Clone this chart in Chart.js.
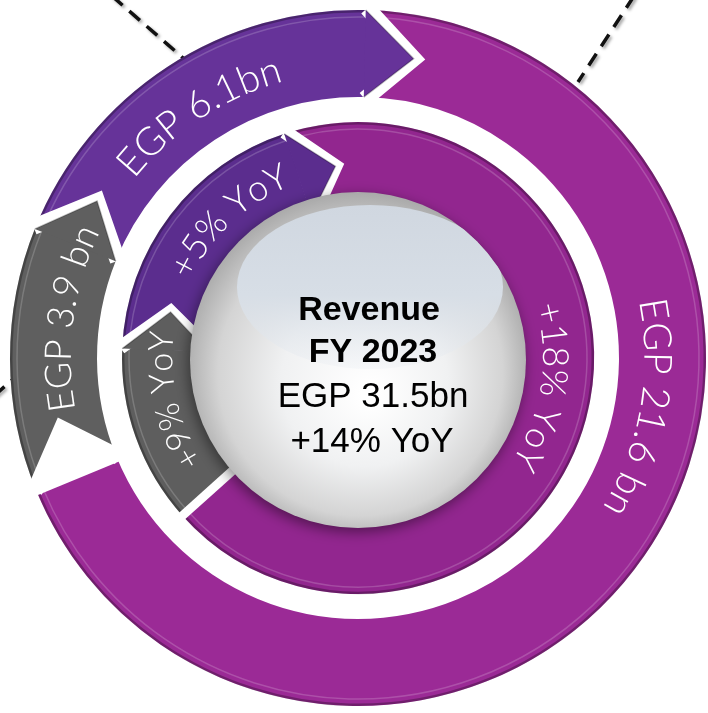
<!DOCTYPE html>
<html><head><meta charset="utf-8">
<script src="https://cdn.jsdelivr.net/npm/chart.js@4.4.0/dist/chart.umd.min.js"></script>
<style>html,body{margin:0;padding:0;background:#fff;overflow:hidden}#wrap{width:708px;height:713px;position:relative}</style>
</head><body><div id="wrap"><canvas id="c" width="708" height="713"></canvas></div>
<script>
// ---- data ----
const revenueLabels = ['EGP 21.6 bn', 'EGP 3.9 bn', 'EGP 6.1bn'];
const revenueBn = [21.6, 3.9, 6.1];
const yoyLabels = ['+18% YoY', '+9% YoY', '+5% YoY'];
const yoyPct = [18, 9, 5];
const centerTitle = ['Revenue', 'FY 2023'];
const centerTotal = 'EGP 31.5bn';
const centerYoY = '+14% YoY';

// ---- style ----
const outerColors = ['#9b2a96', '#5f5f5f', '#663399'];
const innerColors = ['#92268f', '#5e5e5e', '#5b2d8e'];

function pt(cx, cy, r, a) { return [cx + r * Math.cos(a), cy + r * Math.sin(a)]; }

function arcText(ctx, text, cx, cy, r, centerAng, size, font, color) {
  ctx.save();
  ctx.font = font;
  ctx.fillStyle = color;
  ctx.textAlign = 'center';
  ctx.textBaseline = 'alphabetic';
  const rb = r - 0.36 * size;
  const total = ctx.measureText(text).width;
  let ang = centerAng - total / (2 * rb);
  for (const ch of text) {
    const w = ctx.measureText(ch).width;
    const a = ang + w / (2 * rb);
    ctx.save();
    ctx.translate(cx + rb * Math.cos(a), cy + rb * Math.sin(a));
    ctx.rotate(a + Math.PI / 2);
    ctx.fillText(ch, 0, 0);
    ctx.restore();
    ang += w / rb;
  }
  ctx.restore();
}

const ringArt = {
  id: 'ringArt',
  beforeDraw(chart) {
    const ctx = chart.ctx;
    ctx.save();
    ctx.strokeStyle = '#111';
    ctx.lineWidth = 3.5;
    ctx.setLineDash([14, 9]);
    ctx.shadowColor = 'rgba(0,0,0,0.35)';
    ctx.shadowBlur = 3; ctx.shadowOffsetX = 2; ctx.shadowOffsetY = 2;
    [[[112, -4], [190, 64]], [[634, -4], [578, 82]], [[-6, 396], [22, 371]]].forEach(l => {
      ctx.beginPath(); ctx.moveTo(l[0][0], l[0][1]); ctx.lineTo(l[1][0], l[1][1]); ctx.stroke();
    });
    ctx.restore();
  },
  afterDatasetsDraw(chart, args, opts) {
    const ctx = chart.ctx;
    const rings = [
      {di: 0, tip: 48, gap: 16, labels: revenueLabels, pos: opts.outerPos, size: opts.outerSize, notchFirstTail: true},
      {di: 2, tip: 38, gap: 14, labels: yoyLabels, pos: opts.innerPos, size: opts.innerSize, notchFirstTail: false}
    ];
    rings.forEach(ring => {
      const meta = chart.getDatasetMeta(ring.di);
      const arcs = meta.data.map(a => a.getProps(['x', 'y', 'startAngle', 'endAngle', 'innerRadius', 'outerRadius'], true));
      const colors = chart.data.datasets[ring.di].backgroundColor;
      // subtle bevel on the outer rim
      arcs.forEach((p) => {
        ctx.save();
        ctx.strokeStyle = 'rgba(0,0,0,0.28)';
        ctx.lineWidth = 2.5;
        ctx.beginPath(); ctx.arc(p.x, p.y, p.outerRadius - 1.2, p.startAngle, p.endAngle); ctx.stroke();
        ctx.strokeStyle = 'rgba(255,255,255,0.18)';
        ctx.lineWidth = 1.5;
        ctx.beginPath(); ctx.arc(p.x, p.y, p.outerRadius - 7, p.startAngle, p.endAngle); ctx.stroke();
        ctx.restore();
      });
      // notches at tails
      arcs.forEach((p, i) => {
        if (i === 1 && !ring.notchFirstTail) return;
        const rm = (p.innerRadius + p.outerRadius) / 2;
        const d = ring.tip / rm;
        const a = pt(p.x, p.y, p.outerRadius + 2, p.startAngle);
        const b = pt(p.x, p.y, rm, p.startAngle + d);
        const c = pt(p.x, p.y, p.innerRadius - 2, p.startAngle);
        ctx.save();
        ctx.fillStyle = '#fff'; ctx.strokeStyle = '#fff';
        ctx.lineWidth = ring.gap; ctx.lineJoin = 'miter';
        ctx.beginPath(); ctx.moveTo(a[0], a[1]); ctx.lineTo(b[0], b[1]); ctx.lineTo(c[0], c[1]); ctx.closePath(); ctx.fill();
        ctx.beginPath(); ctx.moveTo(a[0], a[1]); ctx.lineTo(b[0], b[1]); ctx.lineTo(c[0], c[1]); ctx.stroke();
        ctx.restore();
      });
      // heads: the largest segment ends flat, the others end in a chevron tip
      arcs.forEach((p, i) => {
        const rm = (p.innerRadius + p.outerRadius) / 2;
        if (i === 0) {
          const a = pt(p.x, p.y, p.outerRadius + 2, p.endAngle);
          const c = pt(p.x, p.y, p.innerRadius - 2, p.endAngle);
          ctx.save(); ctx.strokeStyle = '#fff'; ctx.lineWidth = 9;
          ctx.beginPath(); ctx.moveTo(a[0], a[1]); ctx.lineTo(c[0], c[1]); ctx.stroke(); ctx.restore();
          return;
        }
        const d = ring.tip / rm;
        const a = pt(p.x, p.y, p.outerRadius, p.endAngle - 0.004);
        const b = pt(p.x, p.y, rm, p.endAngle + d);
        const c = pt(p.x, p.y, p.innerRadius, p.endAngle - 0.004);
        ctx.save();
        ctx.fillStyle = colors[i];
        ctx.beginPath(); ctx.moveTo(a[0], a[1]); ctx.lineTo(b[0], b[1]); ctx.lineTo(c[0], c[1]); ctx.closePath(); ctx.fill();
        ctx.strokeStyle = 'rgba(0,0,0,0.25)'; ctx.lineWidth = 1.5;
        ctx.beginPath(); ctx.moveTo(a[0], a[1]); ctx.lineTo(b[0], b[1]); ctx.lineTo(c[0], c[1]); ctx.stroke();
        ctx.restore();
      });
      // curved labels
      arcs.forEach((p, i) => {
        const f = ring.pos[i];
        const ang = p.startAngle + (p.endAngle - p.startAngle) * f;
        const rTxt = ring.di === 0 ? (p.innerRadius + p.outerRadius) / 2 - 4 : 198;
        const sz = ring.size[i];
        arcText(ctx, ring.labels[i], p.x, p.y, rTxt, ang, sz,
          '300 ' + sz + 'px Lato, "Open Sans", sans-serif', '#ffffff');
      });
    });

    // central sphere
    const sx = 358, sy = 360, sr = 168;
    ctx.save();
    ctx.shadowColor = 'rgba(0,0,0,0.45)';
    ctx.shadowBlur = 14; ctx.shadowOffsetX = -2; ctx.shadowOffsetY = 4;
    const g = ctx.createRadialGradient(sx + 12, sy + 35, 8, sx, sy + 8, sr + 8);
    g.addColorStop(0, '#ffffff');
    g.addColorStop(0.45, '#f0f1f2');
    g.addColorStop(0.8, '#d4d4d4');
    g.addColorStop(1, '#a9a9a9');
    ctx.fillStyle = g;
    ctx.beginPath(); ctx.arc(sx, sy, sr, 0, Math.PI * 2); ctx.fill();
    ctx.restore();
    ctx.save();
    ctx.beginPath(); ctx.arc(sx, sy, sr, 0, Math.PI * 2); ctx.clip();
    const hg = ctx.createLinearGradient(0, 205, 0, 368);
    hg.addColorStop(0, 'rgba(208,215,224,1)');
    hg.addColorStop(0.55, 'rgba(215,222,230,1)');
    hg.addColorStop(1, 'rgba(232,236,241,0.3)');
    ctx.fillStyle = hg;
    ctx.beginPath(); ctx.ellipse(370, 287, 133, 82, 0, 0, Math.PI * 2); ctx.fill();
    ctx.restore();

    // central text
    ctx.save();
    ctx.fillStyle = '#000';
    ctx.textAlign = 'center';
    ctx.textBaseline = 'middle';
    ctx.font = 'bold 34px "Liberation Sans", Arial, sans-serif';
    ctx.fillText(centerTitle[0], 369, 311);
    ctx.fillText(centerTitle[1], 373, 353);
    ctx.font = '35px "Liberation Sans", Arial, sans-serif';
    ctx.fillText(centerTotal, 373, 397);
    ctx.fillText(centerYoY, 372, 442);
    ctx.restore();
  }
};

new Chart(document.getElementById('c').getContext('2d'), {
  type: 'doughnut',
  data: {
    labels: revenueLabels,
    datasets: [
      {label: 'Revenue (EGP bn)', data: revenueBn, backgroundColor: outerColors, borderWidth: 0, hoverOffset: 0, weight: 87, rotation: 1.5},
      {label: 'spacer', data: revenueBn, backgroundColor: 'rgba(0,0,0,0)', borderWidth: 0, hoverOffset: 0, weight: 25, rotation: 1.5},
      {label: 'YoY growth', data: revenueBn, yoy: yoyPct, backgroundColor: innerColors, borderWidth: 0, hoverOffset: 0, weight: 86, rotation: -18}
    ]
  },
  options: {
    responsive: false,
    animation: false,
    events: [],
    cutout: '43.1%',
    layout: {padding: {left: 10, right: 2, top: 10, bottom: 7}},
    plugins: {
      legend: {display: false},
      tooltip: {enabled: false},
      ringArt: {outerPos: [0.4, 0.68, 0.5], innerPos: [0.47, 0.63, 0.62],
                outerSize: [39, 37, 39], innerSize: [36, 34, 36]}
    }
  },
  plugins: [ringArt]
});
</script>
</body></html>
